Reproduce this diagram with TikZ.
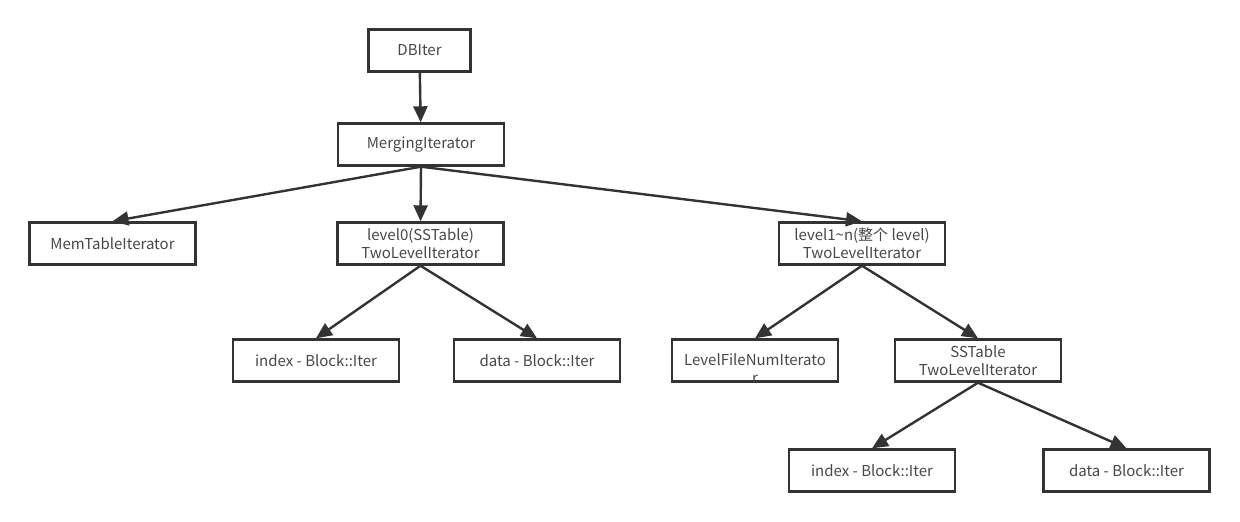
\documentclass[tikz,border=0pt]{standalone}
\usepackage{fontspec}
\setmainfont{Noto Sans CJK SC}
\usetikzlibrary{arrows.meta}

\begin{document}
\begin{tikzpicture}[x=1pt,y=-1pt,
  box/.style={draw=black!80,line width=2.4pt,minimum width=166pt,minimum height=42pt,inner sep=2pt,align=center,text=black!72,font=\fontsize{15}{18}\selectfont},
  link/.style={draw=black!80,line width=2.4pt,-{Triangle[length=16pt,width=14pt]}}]
  \useasboundingbox (0,0) rectangle (1240,522);
  % top of the tree
  \node[box,minimum width=102pt] (dbiter) at (419.5,50.5) {DBIter};
  \node[box] (merging) at (421,144.5) {MergingIterator};
  % second row
  \node[box] (memtable) at (112.5,243.5) {MemTableIterator};
  \node[box] (levelzero) at (420.5,243.5) {level0(SSTable)\\TwoLevelIterator};
  \node[box] (levelone) at (862,243.5) {level1\textasciitilde n(整个 level)\\TwoLevelIterator};
  % third row
  \node[box] (indexa) at (316,360.5) {index - Block::Iter};
  \node[box] (dataa) at (537,360.5) {data - Block::Iter};
  \node[box] (filenum) at (755,360.5) {\raisebox{-9pt}{\smash{\begin{tabular}[t]{@{}c@{}}LevelFileNumIterato\\r\end{tabular}}}};
  \node[box] (sstable) at (978,360.5) {SSTable\\TwoLevelIterator};
  % bottom row
  \node[box] (indexb) at (872,470.5) {index - Block::Iter};
  \node[box] (datab) at (1126.5,470.5) {data - Block::Iter};
  \draw[link] (dbiter) -- (merging);
  \draw[link] (merging.south) -- (memtable.north); \draw[link] (merging.south) -- (levelzero.north); \draw[link] (merging.south) -- (levelone.north);
  \draw[link] (levelzero.south) -- (indexa.north); \draw[link] (levelzero.south) -- (dataa.north);
  \draw[link] (levelone.south) -- (filenum.north); \draw[link] (levelone.south) -- (sstable.north);
  \draw[link] (sstable.south) -- (indexb.north); \draw[link] (sstable.south) -- (datab.north);
\end{tikzpicture}
\end{document}
